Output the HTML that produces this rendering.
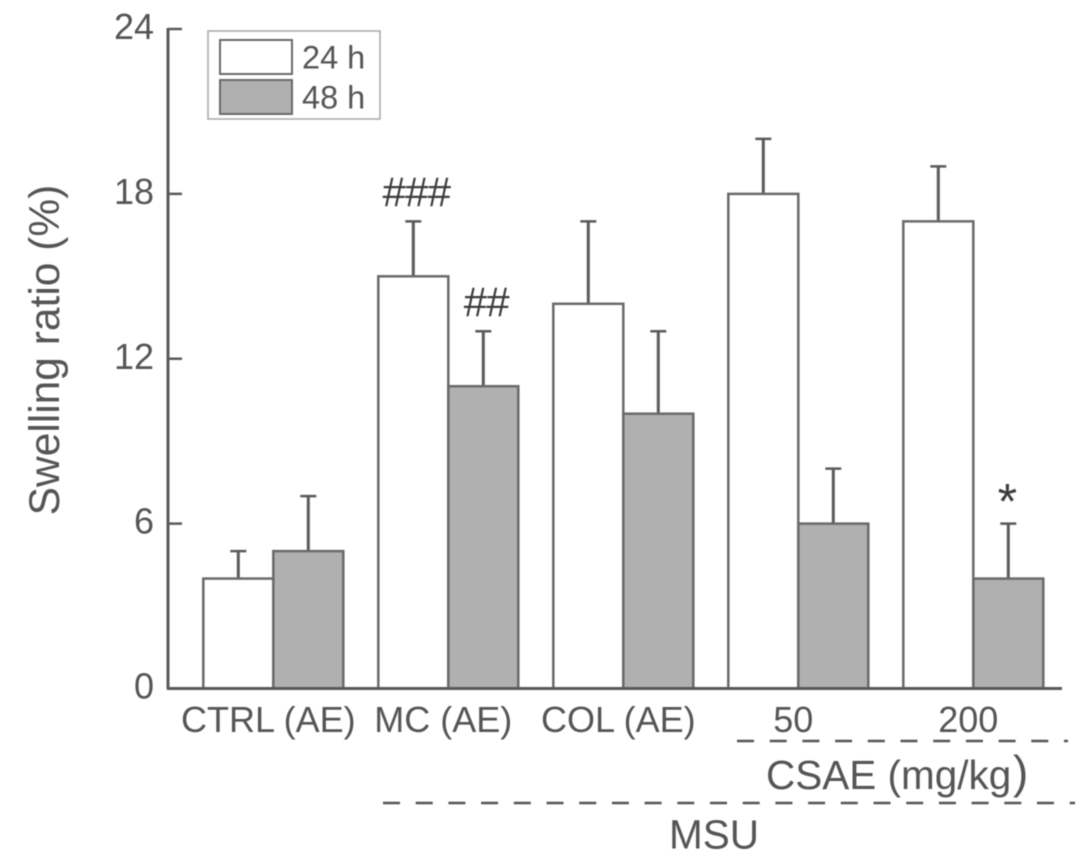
<!DOCTYPE html>
<html>
<head>
<meta charset="utf-8">
<title>Swelling ratio chart</title>
<style>
html,body{margin:0;padding:0;background:#fff;}
#chart-wrap{width:1087px;height:862px;overflow:hidden;}
svg{display:block;filter:blur(0.6px);}
text{font-family:"Liberation Sans",sans-serif;fill:#555;}
</style>
</head>
<body>
<div id="chart-wrap">
<svg id="chart" width="1087" height="862" viewBox="0 0 1087 862"></svg>
</div>
<script>
const categories = ["CTRL (AE)", "MC (AE)", "COL (AE)", "50", "200"];
const seriesNames = ["24 h", "48 h"];
const values24h = [4, 15, 14, 18, 17];
const errors24h = [1, 2, 3, 2, 2];
const values48h = [5, 11, 10, 6, 4];
const errors48h = [2, 2, 3, 2, 2];
const yTickLabels = [0, 6, 12, 18, 24];
const annotations = [
  { label: "###", group: 1, series: 0, value: 17 },
  { label: "##", group: 1, series: 1, value: 13 },
  { label: "*", group: 4, series: 1, value: 6 }
];

const svg = document.getElementById('chart');
const NS = 'http://www.w3.org/2000/svg';
const axisColor = '#5a5a5a';
const barEdge = '#6a6a6a';
const grayFill = '#b0b0b0';

function yScale(v) { return 688.5 - v * (659.5 / 24); }
function groupLeft(i) { return 203.3 + i * 175; }
function barX(i, s) { return groupLeft(i) + s * 70; }
const barWidth = 70;

function mk(tag, attrs, parent) {
  const el = document.createElementNS(NS, tag);
  for (const k in attrs) el.setAttribute(k, attrs[k]);
  (parent || svg).appendChild(el);
  return el;
}

function drawBar(i, s, value, error) {
  const x = barX(i, s);
  const cx = x + barWidth / 2;
  const cap = mk('line', { x1: cx - 8, x2: cx + 8, y1: yScale(value + error), y2: yScale(value + error), stroke: axisColor, 'stroke-width': 2.5 });
  
  
  const stem = mk('line', { x1: cx, x2: cx, y1: yScale(value), y2: yScale(value + error), stroke: axisColor, 'stroke-width': 3 });
  
  
  const r = mk('rect', { x: x, y: yScale(value), width: barWidth, height: yScale(0) - yScale(value), fill: s === 0 ? '#fff' : grayFill, stroke: barEdge, 'stroke-width': 2.5 });
  
  
}

categories.forEach(function (c, i) {
  drawBar(i, 0, values24h[i], errors24h[i]);
  drawBar(i, 1, values48h[i], errors48h[i]);
  const t = mk('text', { x: barX(i, 1) - 5, y: 732, 'text-anchor': 'middle', 'font-size': 36 });
  t.textContent = c;
  
  
});

const yAxis = mk('line', { x1: 168, x2: 168, y1: 28, y2: 689, stroke: axisColor, 'stroke-width': 3 });


const xAxis = mk('line', { x1: 167, x2: 1062, y1: 688.5, y2: 688.5, stroke: axisColor, 'stroke-width': 3 });



yTickLabels.forEach(function (v) {
  const y = yScale(v);
  if (v > 0) {
    const tick = mk('line', { x1: 168, x2: 182, y1: y, y2: y, stroke: axisColor, 'stroke-width': 2.5 });
    
    
  }
  const t = mk('text', { x: 154, y: y + 10, 'text-anchor': 'end', 'font-size': 36 });
  t.textContent = String(v);
  
  
});

annotations.forEach(function (a) {
  const isStar = a.label === '*';
  const t = mk('text', {
    x: barX(a.group, a.series) + barWidth / 2 + (isStar ? -1 : 3),
    y: yScale(a.value) + (isStar ? -5 : -15),
    'text-anchor': 'middle',
    'font-size': isStar ? 50 : 42,
    'letter-spacing': isStar ? 0 : -0.8
  });
  t.style.fill = '#3c3c3c';
  t.textContent = a.label;
  
  
});
</script>
<script>
(function () {
  const s = document.getElementById('chart');
  const NS2 = 'http://www.w3.org/2000/svg';
  function add(tag, attrs, text) {
    const el = document.createElementNS(NS2, tag);
    for (const k in attrs) el.setAttribute(k, attrs[k]);
    if (text) el.textContent = text;
    s.appendChild(el);
    return el;
  }
  const yTitle = add('text', { x: 59, y: 350, 'text-anchor': 'middle', 'font-size': 42.5, transform: 'rotate(-90 59 350)' }, 'Swelling ratio (%)');
  
  

  const box = add('rect', { x: 208, y: 31, width: 172, height: 88, fill: '#fff', stroke: '#a8a8a8', 'stroke-width': 1.5 });
  
  
  seriesNames.forEach(function (n, i) {
    const sw = add('rect', { x: 220, y: 40 + i * 40, width: 72, height: 34, fill: i === 0 ? '#fff' : '#b0b0b0', stroke: '#6a6a6a', 'stroke-width': 2 });
    
    
    const lb = add('text', { x: 302, y: 68.5 + i * 40, 'font-size': 32.5 }, n);
    
    
  });

  const d1 = add('line', { x1: 737, x2: 1068, y1: 741, y2: 741, stroke: '#555', 'stroke-width': 2.5, 'stroke-dasharray': '17 15.7' });
  
  
  const d2 = add('line', { x1: 383, x2: 1075, y1: 803, y2: 803, stroke: '#555', 'stroke-width': 2.5, 'stroke-dasharray': '17 15.7' });
  
  

  const g1 = add('text', { x: 766, y: 789, 'font-size': 40.5 }, 'CSAE (mg/kg');
  
  
  const g1b = add('text', { x: 1013, y: 788, 'font-size': 46 }, ')');
  
  
  const g2 = add('text', { x: 669, y: 848.5, 'font-size': 40.5 }, 'MSU');
  
  
})();
</script>
</body>
</html>
